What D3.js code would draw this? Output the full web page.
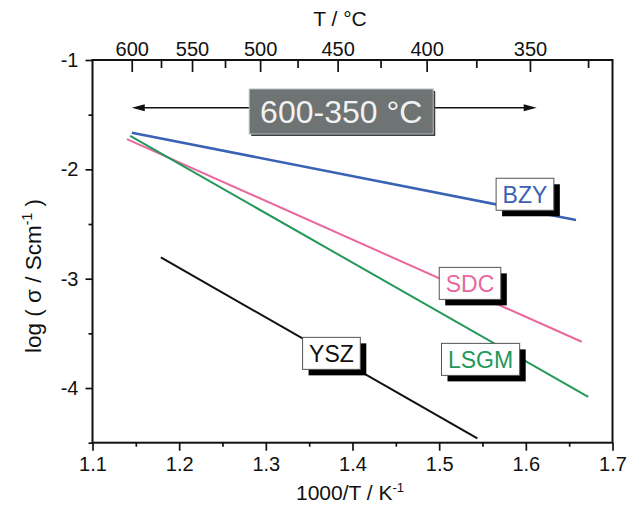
<!DOCTYPE html>
<html><head><meta charset="utf-8">
<script src="https://cdn.jsdelivr.net/npm/d3@7"></script>
<style>
body{margin:0;background:#fff;}
svg{font-family:"Liberation Sans",Arial,sans-serif;}
</style></head><body>
<svg id="c" width="639" height="507"></svg>
<script>
// ---- data ----
const xDomain = [1.1, 1.7];
const yDomain = [-1, -4.5];
const xTicks = [1.1, 1.2, 1.3, 1.4, 1.5, 1.6, 1.7];
const xMinor = [1.15, 1.25, 1.35, 1.45, 1.55, 1.65];
const yTicks = [-1, -2, -3, -4];
const yMinor = [-1.5, -2.5, -3.5, -4.5];
const topTicksC = [600, 550, 500, 450, 400, 350];
const topMinorC = [575, 525, 475, 425, 375, 325];
const seriesNames = ["BZY", "SDC", "LSGM", "YSZ"];
const seriesColors = ["#3a62b4", "#e9679d", "#22985a", "#111111"];
const bzy  = [[1.1454, -1.665], [1.6579, -2.464]];
const sdc  = [[1.1397, -1.723], [1.6645, -3.577]];
const lsgm = [[1.1435, -1.695], [1.6720, -4.081]];
const ysz  = [[1.1789, -2.805], [1.5441, -4.461]];
const labelAnchors = [[1.599, -2.228], [1.5356, -3.043], [1.5478, -3.738], [1.3757, -3.683]];
const rangeText = "600-350 °C";
const rangeC = [600, 347];
const rangeArrowY = -1.436;
const rangeBoxCenter = [1.387, -1.471];

// ---- chart ----
const svg = d3.select("#c");
const x = d3.scaleLinear().domain(xDomain).range([92.5, 612.5]);
const y = d3.scaleLinear().domain(yDomain).range([60, 442.7]);
const cToX = c => 1000 / (c + 273.15);

function styleAxis(g, fs) {
  g.select(".domain").remove();
  g.attr("font-family", null).attr("font-size", null);
  g.selectAll("line").attr("stroke", "#111").attr("stroke-width", 1.7);
  g.selectAll("text").attr("fill", "#111").style("font-size", fs + "px");
}

// bottom
svg.append("g").attr("transform", `translate(0,${y(-4.5)})`)
  .call(d3.axisBottom(x).tickValues(xTicks).tickSizeInner(8).tickSizeOuter(0).tickPadding(6).tickFormat(d3.format(".1f")))
  .call(g => styleAxis(g, 20));
svg.append("g").attr("transform", `translate(0,${y(-4.5)})`)
  .call(d3.axisBottom(x).tickValues(xMinor).tickSizeInner(4).tickSizeOuter(0).tickFormat(""))
  .call(g => styleAxis(g, 20));
// left
svg.append("g").attr("transform", `translate(${x(1.1)},0)`)
  .call(d3.axisLeft(y).tickValues(yTicks).tickSizeInner(7).tickSizeOuter(0).tickPadding(7).tickFormat(d => String(d)))
  .call(g => styleAxis(g, 20));
svg.append("g").attr("transform", `translate(${x(1.1)},0)`)
  .call(d3.axisLeft(y).tickValues(yMinor).tickSizeInner(4).tickSizeOuter(0).tickFormat(""))
  .call(g => styleAxis(g, 20));
// top (temperature)
svg.append("g").attr("transform", `translate(0,${y(-1)})`)
  .call(d3.axisTop(x).tickValues(topTicksC.map(cToX)).tickSizeInner(-12).tickSizeOuter(0).tickPadding(4).tickFormat((d, i) => topTicksC[i]))
  .call(g => styleAxis(g, 20));
svg.append("g").attr("transform", `translate(0,${y(-1)})`)
  .call(d3.axisTop(x).tickValues(topMinorC.map(cToX)).tickSizeInner(-8).tickSizeOuter(0).tickFormat(""))
  .call(g => styleAxis(g, 20));

// frame
svg.append("rect")
  .attr("x", x(1.1)).attr("y", y(-1))
  .attr("width", x(1.7) - x(1.1)).attr("height", y(-4.5) - y(-1))
  .attr("fill", "none").attr("stroke", "#111").attr("stroke-width", 2);

// titles
svg.append("text").attr("x", 340).attr("y", 26).attr("text-anchor", "middle")
  .style("font-size", "21px").attr("fill", "#111").text("T / °C");
const bt = svg.append("text").attr("x", 350).attr("y", 500).attr("text-anchor", "middle")
  .style("font-size", "21px").attr("fill", "#111");
bt.append("tspan").text("1000/T / K");
bt.append("tspan").attr("dy", -8).style("font-size", "13px").text("-1");
const lt = svg.append("text").attr("transform", "translate(41,276) rotate(-90)").attr("text-anchor", "middle")
  .style("font-size", "22.5px").attr("fill", "#111");
lt.append("tspan").text("log ( σ / Scm");
lt.append("tspan").attr("dy", -9).style("font-size", "14px").text("-1");
lt.append("tspan").attr("dy", 9).text(" )");

// series lines
const line = d3.line().x(d => x(d[0])).y(d => y(d[1]));
const seriesData = [bzy, sdc, lsgm, ysz];
svg.append("g").selectAll("path").data(seriesData).join("path")
  .attr("d", line).attr("fill", "none")
  .attr("stroke", (d, i) => seriesColors[i])
  .attr("stroke-width", (d, i) => i === 0 ? 2.6 : 2);

// range arrow + banner
const ax0 = x(cToX(rangeC[0])), ax1 = x(cToX(rangeC[1])), ay = y(rangeArrowY);
svg.append("line").attr("x1", ax0 + 4).attr("x2", ax1 - 4).attr("y1", ay).attr("y2", ay)
  .attr("stroke", "#111").attr("stroke-width", 1.5);
svg.append("path").attr("d", `M${ax0},${ay} L${ax0 + 13},${ay - 3.5} L${ax0 + 13},${ay + 3.5} Z`).attr("fill", "#111");
svg.append("path").attr("d", `M${ax1},${ay} L${ax1 - 13},${ay - 3.5} L${ax1 - 13},${ay + 3.5} Z`).attr("fill", "#111");
const bw = 184, bh = 45;
const bcx = x(rangeBoxCenter[0]), bcy = y(rangeBoxCenter[1]);
svg.append("rect").attr("x", bcx - bw / 2 + 2).attr("y", bcy - bh / 2 + 2).attr("width", bw).attr("height", bh).attr("fill", "#3c3f3f");
svg.append("rect").attr("x", bcx - bw / 2).attr("y", bcy - bh / 2).attr("width", bw).attr("height", bh)
  .attr("fill", "#6e7373").attr("stroke", "#b9bcbc").attr("stroke-width", 1);
svg.append("text").attr("x", bcx).attr("y", bcy).attr("dy", "0.36em").attr("text-anchor", "middle")
  .style("font-size", "32px").attr("fill", "#f2f2f2").text(rangeText);

// labels with shadow boxes
seriesNames.forEach((name, i) => {
  const cx = x(labelAnchors[i][0]), cy = y(labelAnchors[i][1]);
  const g = svg.append("g");
  const sh = g.append("rect").attr("fill", "#000");
  const bx = g.append("rect").attr("fill", "#fff").attr("stroke", "#555").attr("stroke-width", 1);
  const t = g.append("text").attr("x", cx).attr("y", cy).attr("dy", "0.36em").attr("text-anchor", "middle")
    .style("font-size", "23px").attr("fill", seriesColors[i]).text(name);
  const w = t.node().getComputedTextLength() + 13, h = 32;
  bx.attr("x", cx - w / 2).attr("y", cy - h / 2).attr("width", w).attr("height", h);
  sh.attr("x", cx - w / 2 + 6).attr("y", cy - h / 2 + 6).attr("width", w).attr("height", h);
});
</script>
</body></html>
